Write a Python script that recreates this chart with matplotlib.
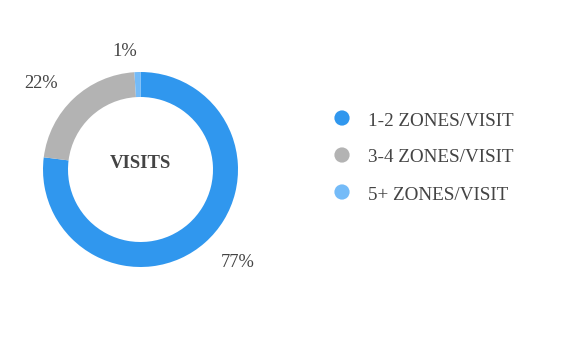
import matplotlib
matplotlib.use("Agg")
import matplotlib.pyplot as plt
import numpy as np

categories = ["1-2 ZONES/VISIT", "3-4 ZONES/VISIT", "5+ ZONES/VISIT"]
values = [77, 22, 1]
pct_labels = ["77%", "22%", "1%"]
colors = ["#3097ee", "#b3b3b3", "#74bbf8"]
center_title = "VISITS"

plt.rcParams['font.family'] = ['Liberation Serif', 'DejaVu Serif']
TXT = "#444444"

W, H = 577, 356
fig = plt.figure(figsize=(W / 100, H / 100), dpi=100)
ax = fig.add_axes([0, 0, 1, 1])

cx, cy = 140.5, H - 169.5
R = 97.5
wedges, _ = ax.pie(values, colors=colors, startangle=90, counterclock=False,
                   radius=R, center=(cx, cy), frame=True,
                   wedgeprops=dict(width=25, linewidth=0))
ax.set_xlim(0, W)
ax.set_ylim(0, H)
ax.set_aspect('equal')
ax.axis('off')

# percentage labels
total = sum(values)
start = 90.0
for v, lab in zip(values, pct_labels):
    sweep = 360.0 * v / total
    mid = np.deg2rad(start - sweep / 2)
    start -= sweep
    rr = 121
    x = cx + rr * np.cos(mid)
    y = cy + rr * np.sin(mid) - 2.5
    ha = 'left' if np.cos(mid) > 0 else 'right'
    ax.text(x, y, lab, ha=ha, va='center', fontsize=13.3, color=TXT)

ax.text(cx, cy + 6, center_title, ha='center', va='center', fontsize=13.5,
        fontweight='bold', color=TXT)

# legend
lx, ly0, dy = 342, H - 118, 37
for i, (c, col) in enumerate(zip(categories, colors)):
    y = ly0 - i * dy
    ax.scatter([lx], [y], s=120, color=col, edgecolors='none')
    ax.text(lx + 26, y - 3, c, ha='left', va='center', fontsize=13.8, color=TXT)

fig.savefig("out.png", dpi=100)
